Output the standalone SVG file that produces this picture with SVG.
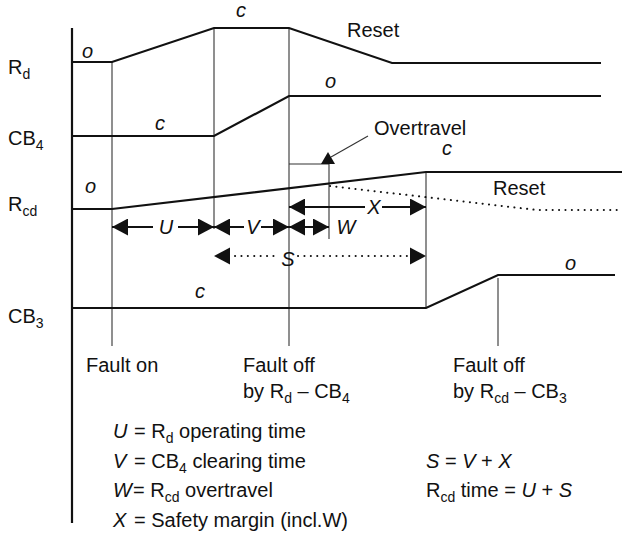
<svg xmlns="http://www.w3.org/2000/svg" width="626" height="543" viewBox="0 0 626 543">
<style>
text{font-family:"Liberation Sans",Arial,Helvetica,sans-serif;font-size:20px;fill:#111}
.it{font-style:italic}
.sub{font-size:14px}
.th{stroke:#111;stroke-width:2.2;fill:none;stroke-linejoin:miter}
.tn{stroke:#333;stroke-width:1.1;fill:none}
.ar{stroke:#111;stroke-width:2;fill:none}
.dt{stroke:#111;stroke-width:2;fill:none;stroke-dasharray:0.1 6.3;stroke-linecap:round}
</style>
<defs>
<marker id="ah" markerUnits="userSpaceOnUse" markerWidth="16" markerHeight="17" refX="16" refY="8.5" orient="auto-start-reverse" viewBox="0 0 16 17">
<path d="M0,0 L16,8.5 L0,17 z" fill="#111"/>
</marker>
</defs>
<g id="axis"><line class="th" x1="72" y1="28" x2="72" y2="523"/></g>
<g id="guides">
<line class="tn" x1="112" y1="62" x2="112" y2="346"/>
<line class="tn" x1="214" y1="28" x2="214" y2="229"/>
<line class="tn" x1="289" y1="28" x2="289" y2="346"/>
<line class="tn" x1="426" y1="172" x2="426" y2="308"/>
<line class="tn" x1="498" y1="278" x2="498" y2="346"/>
<polyline class="tn" points="289,164 329,164 329,239"/>
</g>
<g id="row-Rd">
<text x="8" y="74">R<tspan class="sub" dy="5">d</tspan></text>
<polyline class="th" points="72,62 112,62 214,28 289,28 392,63 601,63"/>
<text class="it" x="82" y="58">o</text>
<text class="it" x="236" y="17">c</text>
<text x="347" y="37">Reset</text>
</g>
<g id="row-CB4">
<text x="8" y="145">CB<tspan class="sub" dy="5">4</tspan></text>
<polyline class="th" points="72,136 214,136 289,96 601,96"/>
<text class="it" x="155" y="130">c</text>
<text class="it" x="325" y="88">o</text>
</g>
<g id="row-Rcd">
<text x="8" y="211">R<tspan class="sub" dy="5">cd</tspan></text>
<polyline class="th" points="72,209 112,209 426,172 622,172"/>
<polyline class="dt" points="330,186 537,210 622,210"/>
<text class="it" x="85" y="193">o</text>
<text class="it" x="442" y="155">c</text>
<text x="493" y="195">Reset</text>
</g>
<g id="row-CB3">
<text x="8" y="323">CB<tspan class="sub" dy="5">3</tspan></text>
<polyline class="th" points="72,308 426,308 498,275 615,275"/>
<text class="it" x="195" y="298">c</text>
<text class="it" x="565" y="270">o</text>
</g>
<g id="overtravel">
<text x="374" y="135">Overtravel</text>
<line class="tn" x1="368" y1="136" x2="331" y2="157"/>
<polygon points="328,152 321,164 335,164" fill="#111"/>
</g>
<g id="connectors">
<line class="ar" x1="112" y1="227" x2="153" y2="227" marker-start="url(#ah)"/>
<line class="ar" x1="178" y1="227" x2="214" y2="227" marker-end="url(#ah)"/>
<line class="ar" x1="214" y1="227" x2="244" y2="227" marker-start="url(#ah)"/>
<line class="ar" x1="261" y1="227" x2="289" y2="227" marker-end="url(#ah)"/>
<line class="ar" x1="289" y1="227" x2="329" y2="227" marker-start="url(#ah)" marker-end="url(#ah)"/>
<line class="ar" x1="289" y1="207" x2="365" y2="207" marker-start="url(#ah)"/>
<line class="ar" x1="382" y1="207" x2="426" y2="207" marker-end="url(#ah)"/>
<line class="dt" x1="235" y1="256" x2="279" y2="256"/>
<line class="dt" x1="298" y1="256" x2="408" y2="256"/>
<path d="M230,247.5 L214,256 L230,264.5 z" fill="#111"/>
<path d="M410,247.5 L426,256 L410,264.5 z" fill="#111"/>
</g>
<g id="interval-labels">
<text class="it" x="166" y="234" text-anchor="middle">U</text>
<text class="it" x="253" y="234" text-anchor="middle">V</text>
<text class="it" x="346" y="234" text-anchor="middle">W</text>
<text class="it" x="374" y="214" text-anchor="middle">X</text>
<text class="it" x="288" y="266" text-anchor="middle">S</text>
</g>
<g id="events">
<text x="86" y="372">Fault on</text>
<text x="243" y="372">Fault off</text>
<text x="243" y="398">by R<tspan class="sub" dy="5">d</tspan><tspan dy="-5"> – CB</tspan><tspan class="sub" dy="5">4</tspan></text>
<text x="453" y="372">Fault off</text>
<text x="453" y="398">by R<tspan class="sub" dy="5">cd</tspan><tspan dy="-5"> – CB</tspan><tspan class="sub" dy="5">3</tspan></text>
</g>
<g id="legend">
<text x="113" y="438"><tspan class="it">U</tspan><tspan x="134">= R</tspan><tspan class="sub" dy="5">d</tspan><tspan dy="-5"> operating time</tspan></text>
<text x="113" y="468"><tspan class="it">V</tspan><tspan x="134">= CB</tspan><tspan class="sub" dy="5">4</tspan><tspan dy="-5"> clearing time</tspan></text>
<text x="113" y="497"><tspan class="it">W</tspan><tspan x="133">= R</tspan><tspan class="sub" dy="5">cd</tspan><tspan dy="-5"> overtravel</tspan></text>
<text x="113" y="527"><tspan class="it">X</tspan><tspan x="134">= Safety margin (incl.W)</tspan></text>
<text x="426" y="468"><tspan class="it">S</tspan> = <tspan class="it">V</tspan> + <tspan class="it">X</tspan></text>
<text x="426" y="497">R<tspan class="sub" dy="5">cd</tspan><tspan dy="-5"> time = </tspan><tspan class="it">U</tspan> + <tspan class="it">S</tspan></text>
</g>
</svg>
